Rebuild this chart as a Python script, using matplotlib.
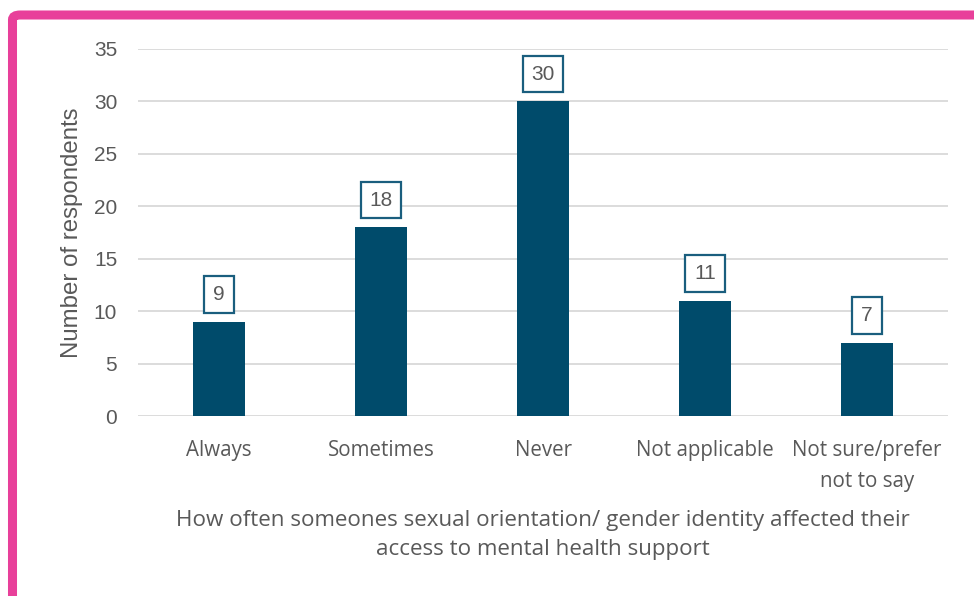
import matplotlib
matplotlib.use("Agg")
import matplotlib.pyplot as plt
from matplotlib.patches import FancyBboxPatch

categories = ["Always", "Sometimes", "Never", "Not applicable", "Not sure/prefer\nnot to say"]
respondents = [9, 18, 30, 11, 7]
y_ticks = [0, 5, 10, 15, 20, 25, 30, 35]

bar_color = "#004B6B"
text_color = "#595959"
pink = "#E8409A"

fig = plt.figure(figsize=(9.74, 5.96), dpi=100)
ax = fig.add_axes([0.1417, 0.302, 0.8316, 0.616])

x = range(len(categories))
bars = ax.bar(x, respondents, width=0.32, color=bar_color, zorder=3)

# value labels in boxed callouts
for xi, v in zip(x, respondents):
    ax.annotate(str(v), (xi, v), xytext=(0, 19.5), textcoords="offset points",
                ha="center", va="center", fontsize=15, color=text_color,
                family="Liberation Sans",
                bbox=dict(boxstyle="square,pad=0.42", fc="white", ec="#1A5E7E", lw=1.6))

ax.set_ylim(0, 35)
ax.set_xlim(-0.5, len(categories) - 0.5)
ax.set_yticks(y_ticks)
ax.yaxis.grid(True, color="#D9D9D9", lw=1.3, zorder=0)
for s in ax.spines.values():
    s.set_visible(False)
ax.tick_params(axis="both", length=0)
ax.tick_params(axis="y", pad=15, labelsize=15, labelcolor=text_color)
ax.tick_params(axis="x", pad=17, labelsize=14.8, labelcolor=text_color)
for lbl in ax.get_yticklabels():
    lbl.set_family("Liberation Sans")
ax.set_xticks(list(x))
ax.set_xticklabels(categories, family="Open Sans", linespacing=1.62)

ax.set_ylabel("Number of respondents", fontsize=17.3, color=text_color,
              family="Liberation Sans", labelpad=8)
ax.set_xlabel("How often someones sexual orientation/ gender identity affected their\naccess to mental health support",
              fontsize=16.1, color=text_color, family="Open Sans", labelpad=13, linespacing=1.5)

# pink frame running off the right and bottom edges
frame = FancyBboxPatch((12.5 / 974, -0.1), 1.2, 1.1 - 15 / 596,
                       boxstyle="round,pad=0,rounding_size=0.008",
                       transform=fig.transFigure, fc="none", ec=pink, lw=6.5,
                       clip_on=False)
fig.patches.append(frame)

fig.savefig("out.png", dpi=100)
